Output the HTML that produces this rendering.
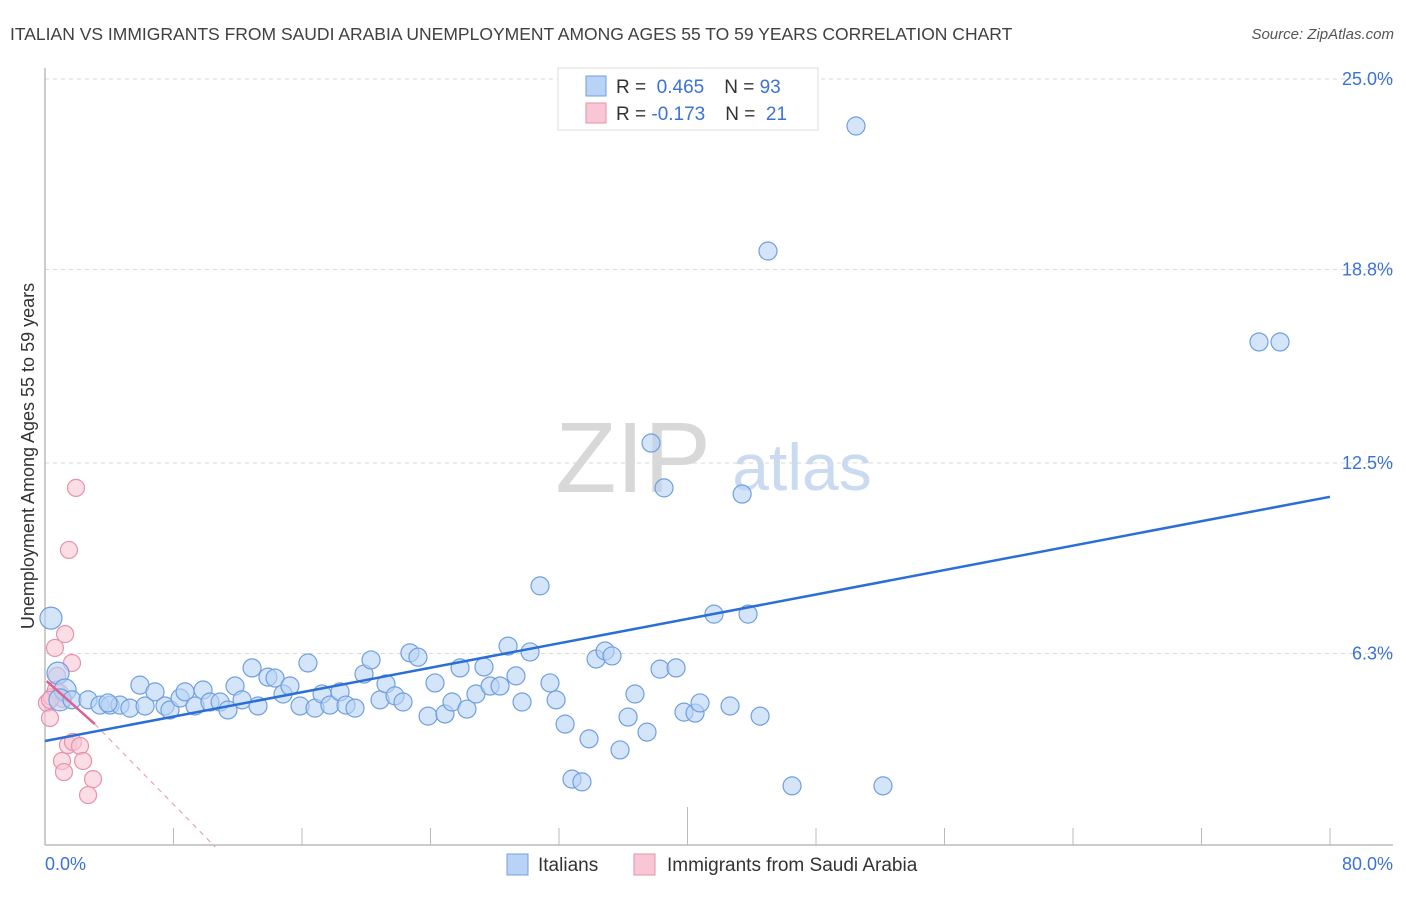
<!DOCTYPE html>
<html><head><meta charset="utf-8">
<style>
body{margin:0;background:#fff;font-family:"Liberation Sans",sans-serif;}
svg text{font-family:"Liberation Sans",sans-serif;}
</style></head><body>
<svg id="chart" width="1406" height="892" viewBox="0 0 1406 892">
<text x="10" y="40" font-size="17.5" fill="#404040">ITALIAN VS IMMIGRANTS FROM SAUDI ARABIA UNEMPLOYMENT AMONG AGES 55 TO 59 YEARS CORRELATION CHART</text>
<text x="1394" y="39" font-size="15" fill="#555" font-style="italic" text-anchor="end">Source: ZipAtlas.com</text>
<text x="633" y="492" font-size="100" fill="#d8d8d8" font-family="Liberation Serif" text-anchor="middle">ZIP</text>
<text x="802" y="490" font-size="66" fill="#c9daf1" text-anchor="middle">atlas</text>
<text transform="translate(34,456) rotate(-90)" font-size="18" fill="#333" text-anchor="middle">Unemployment Among Ages 55 to 59 years</text>
<g id="grid"></g><g id="axes"></g><g id="pinkpts"></g><g id="bluepts"></g><g id="lines"></g>
<g>
<rect x="558" y="68" width="260" height="62" fill="#fff" stroke="#ddd"/>
<rect x="586" y="76" width="20" height="20" fill="#b8d3f5" stroke="#6f9fe0"/>
<rect x="586" y="103" width="20" height="20" fill="#f9c6d5" stroke="#e792ad"/>
<text x="616" y="93" font-size="19" fill="#333">R = <tspan fill="#3b72d6">&#160;0.465</tspan><tspan dx="20">N = </tspan><tspan fill="#3b72d6">93</tspan></text>
<text x="616" y="120" font-size="19" fill="#333">R = <tspan fill="#3b72d6">-0.173</tspan><tspan dx="20">N = </tspan><tspan fill="#3b72d6">&#160;21</tspan></text>
</g>
<g>
<rect x="507" y="854" width="21" height="21" fill="#b8d3f5" stroke="#6f9fe0"/>
<text x="538" y="871" font-size="19" fill="#333">Italians</text>
<rect x="634" y="854" width="21" height="21" fill="#f9c6d5" stroke="#e792ad"/>
<text x="667" y="871" font-size="19" fill="#333">Immigrants from Saudi Arabia</text>
</g>
</svg>
<script>
const yTicks=[25.0,18.8,12.5,6.3];
const yTickLabels=["25.0%","18.8%","12.5%","6.3%"];
const xTickLabels=["0.0%","80.0%"];
const italiansX=[0.37,0.81,1.25,0.93,1.68,2.68,3.42,4.05,4.67,5.29,5.91,6.23,6.85,7.47,7.78,8.41,8.72,9.34,9.84,10.27,10.90,11.39,11.83,12.27,12.89,13.26,13.88,14.32,14.82,15.25,15.88,16.37,16.81,17.25,17.74,18.37,18.74,19.30,19.86,20.30,20.86,21.23,21.79,22.29,22.72,23.22,23.85,24.28,24.90,25.34,25.84,26.27,26.83,27.33,27.71,28.33,28.83,29.32,29.70,30.20,30.82,31.44,31.82,32.38,32.81,33.43,33.87,34.31,34.87,35.30,35.80,36.30,36.73,37.48,37.73,38.29,38.54,39.29,39.78,40.47,40.78,41.65,42.65,43.40,43.77,44.52,45.01,46.51,50.49,52.17,75.58,76.89,3.92];
const italiansY=[7.45,5.66,5.11,4.79,4.79,4.79,4.62,4.62,4.62,4.52,5.27,4.59,5.05,4.59,4.46,4.85,5.05,4.59,5.11,4.72,4.72,4.46,5.24,4.79,5.83,4.59,5.53,5.50,4.98,5.24,4.59,5.99,4.52,4.98,4.62,5.05,4.62,4.52,5.63,6.09,4.79,5.31,4.92,4.72,6.32,6.18,4.26,5.34,4.33,4.72,5.83,4.49,4.98,5.86,5.24,5.24,6.54,5.57,4.72,6.35,8.50,5.34,4.79,4.00,2.21,2.12,3.52,6.12,6.38,6.22,3.16,4.23,4.98,3.74,13.15,5.79,11.69,5.83,4.39,4.36,4.69,7.58,4.59,11.49,7.58,4.26,19.40,1.99,23.47,1.99,16.44,16.44,4.69];
const saudiX=[0.12,0.31,0.44,0.62,0.75,0.93,1.12,1.25,1.49,1.68,1.93,1.43,1.74,2.18,1.06,1.18,2.37,2.99,2.68,0.68,0.31];
const saudiY=[4.69,4.20,4.88,6.48,5.57,5.01,4.82,6.93,9.67,5.99,11.69,3.32,3.42,3.29,2.80,2.44,2.80,2.21,1.69,5.11,4.79];
const blueTrend=[0,3.45,80,11.40];
const pinkTrend=[0.1,5.40,3.1,4.0];
const pinkDash=[3.1,4.0,10.6,0];

const NS="http://www.w3.org/2000/svg";
const X0=45,X1=1330,Y0=847,PY=30.72;
const sx=v=>X0+v/80*(X1-X0);
const sy=v=>Y0-v*PY;
function mk(tag,attrs,parent){const e=document.createElementNS(NS,tag);for(const k in attrs)e.setAttribute(k,attrs[k]);parent.appendChild(e);return e;}
const grid=document.getElementById('grid'),axes=document.getElementById('axes');
yTicks.forEach((t,i)=>{
 const l=mk('line',{x1:X0,x2:1393,y1:sy(t),y2:sy(t),stroke:'#d9d9d9','stroke-dasharray':'4,4'},grid);
 
 
 const tx=mk('text',{x:1393,y:sy(t)+6,'font-size':18,fill:'#3b72d6','text-anchor':'end'},grid);
 tx.textContent=yTickLabels[i];
 
 
});
const ax=mk('line',{x1:X0,x2:1393,y1:845,y2:845,stroke:'#bbb','stroke-width':1.5},axes);


const ay=mk('line',{x1:X0,x2:X0,y1:68,y2:845,stroke:'#bbb','stroke-width':1.5},axes);


for(let i=0;i<=10;i++){
 const x=sx(i*8);
 const t=mk('line',{x1:x,x2:x,y1:i==5?807:828,y2:845,stroke:'#bbb'},axes);
 
 
}
[[X0,'start',0],[1393,'end',1]].forEach(([x,a,i])=>{
 const t=mk('text',{x:x,y:870,'font-size':18,fill:'#3b72d6','text-anchor':a},axes);
 t.textContent=xTickLabels[i];
 
 
});
const bp=document.getElementById('bluepts');
italiansX.forEach((v,i)=>{
 const c=mk('circle',{cx:sx(v),cy:sy(italiansY[i]),r:(v<1.5?11:9),fill:'#b8d3f5','fill-opacity':0.6,stroke:'#6f9fe0','stroke-width':1.2},bp);
 
 
});
const pp=document.getElementById('pinkpts');
saudiX.forEach((v,i)=>{
 const c=mk('circle',{cx:sx(v),cy:sy(saudiY[i]),r:8.5,fill:'#f9c6d5','fill-opacity':0.6,stroke:'#e792ad','stroke-width':1.2},pp);
 
 
});
const lg=document.getElementById('lines');
const bl=mk('line',{x1:sx(blueTrend[0]),y1:sy(blueTrend[1]),x2:sx(blueTrend[2]),y2:sy(blueTrend[3]),stroke:'#2a6ed6','stroke-width':2.5},lg);


const pl=mk('line',{x1:sx(pinkTrend[0]),y1:sy(pinkTrend[1]),x2:sx(pinkTrend[2]),y2:sy(pinkTrend[3]),stroke:'#e06090','stroke-width':2.5},lg);


const pd=mk('line',{x1:sx(pinkDash[0]),y1:sy(pinkDash[1]),x2:sx(pinkDash[2]),y2:sy(pinkDash[3]),stroke:'#e792ad','stroke-width':1,'stroke-dasharray':'5,5'},lg);


</script>
</body></html>
